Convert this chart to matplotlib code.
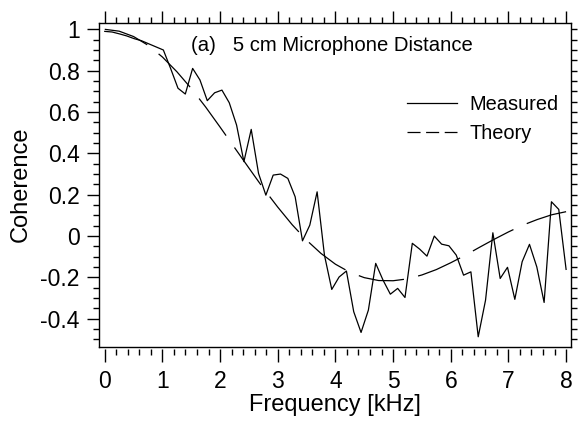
import numpy as np
import matplotlib
matplotlib.use('Agg')
import matplotlib.pyplot as plt
from matplotlib.lines import Line2D
from matplotlib.ticker import MultipleLocator

plt.rcParams['font.family'] = ['Liberation Sans', 'DejaVu Sans']
plt.rcParams['lines.scale_dashes'] = False

# measured coherence, 64 bins from 0 to 8 kHz
freq_meas = np.linspace(0, 8, 64)
coh_meas = [0.99, 0.987, 0.978, 0.968, 0.955, 0.945, 0.93, 0.915,
            0.90, 0.81, 0.715, 0.687, 0.811, 0.755, 0.655, 0.693,
            0.706, 0.645, 0.537, 0.360, 0.516, 0.303, 0.198, 0.295,
            0.300, 0.279, 0.190, -0.023, 0.053, 0.214, -0.092, -0.258,
            -0.198, -0.169, -0.366, -0.466, -0.358, -0.132, -0.213, -0.281,
            -0.253, -0.297, -0.035, -0.063, -0.097, 0.0, -0.039, -0.047,
            -0.092, -0.189, -0.173, -0.487, -0.310, 0.016, -0.205, -0.151,
            -0.306, -0.124, -0.040, -0.149, -0.321, 0.166, 0.129, -0.161]

# theory curve, read every 0.25 kHz
freq_theory = np.arange(0, 8.01, 0.25)
coh_theory = [1.0, 0.991, 0.965, 0.923, 0.866, 0.795, 0.714, 0.624,
              0.527, 0.428, 0.329, 0.231, 0.140, 0.055, -0.020, -0.084,
              -0.136, -0.175, -0.201, -0.215, -0.216, -0.207, -0.188, -0.162,
              -0.129, -0.093, -0.054, -0.016, 0.020, 0.053, 0.080, 0.103,
              0.118]

W, H = 579, 430
fig = plt.figure(figsize=(W / 100, H / 100), dpi=100)
left, right, top, bottom = 99, 570.7, 22.7, 346.7
ax = fig.add_axes([left / W, 1 - bottom / H, (right - left) / W, (bottom - top) / H])

ax.plot(freq_meas, coh_meas, color='black', lw=0.9, label='Measured')
ax.plot(freq_theory, coh_theory, color='black', lw=0.9, dashes=(33, 10.5))

ax.set_xlim(-0.1, 8.08)
ax.set_ylim(-0.535, 1.032)

ax.xaxis.set_minor_locator(MultipleLocator(0.2))
ax.yaxis.set_minor_locator(MultipleLocator(0.05))
ax.set_yticks(np.arange(-0.4, 1.01, 0.2))
ax.set_yticklabels(['-0.4', '-0.2', '0', '0.2', '0.4', '0.6', '0.8', '1'])
ax.set_xticks(range(9))
ax.set_xticklabels([str(i) for i in range(9)])

for s in ax.spines.values():
    s.set_linewidth(1.0)
# bottom ticks hang slightly below the frame
ax.spines['bottom'].set_position(('outward', 1.5))
ax.spines['bottom'].set_visible(False)
ax.plot([0, 1], [0, 0], transform=ax.transAxes, color='black', lw=1.0, clip_on=False)

ax.tick_params(which='both', direction='out', top=True, right=False, width=1.0)
ax.tick_params(which='major', length=9, labelsize=16.5, pad=6)
ax.tick_params(which='minor', length=4.5)
ax.tick_params(axis='y', which='major', pad=5)

# right-hand side: short ticks only
ax2 = ax.twinx()
ax2.set_ylim(ax.get_ylim())
ax2.yaxis.set_major_locator(MultipleLocator(0.05))
ax2.tick_params(axis='y', direction='out', length=4.5, width=1.0, labelright=False)
for s in ax2.spines.values():
    s.set_visible(False)

ax.set_xlabel('Frequency [kHz]', fontsize=17)
ax.set_ylabel('Coherence', fontsize=17)
ax.xaxis.set_label_coords(0.5, -0.147)
ax.yaxis.set_label_coords(-0.142, 0.5)

ax.text(1.5, 0.92, '(a)   5 cm Microphone Distance', fontsize=14.6, va='center', ha='left')

handles = [Line2D([], [], color='black', lw=0.9),
           Line2D([], [], color='black', lw=0.9, dashes=(9.4, 4))]
ax.legend(handles, ['Measured', 'Theory'], loc='upper left', bbox_to_anchor=(0.652, 0.776),
          frameon=False, fontsize=14.4, handlelength=2.5, handletextpad=0.66,
          labelspacing=0.5, borderpad=0, borderaxespad=0)

fig.savefig('out.png', dpi=100)
